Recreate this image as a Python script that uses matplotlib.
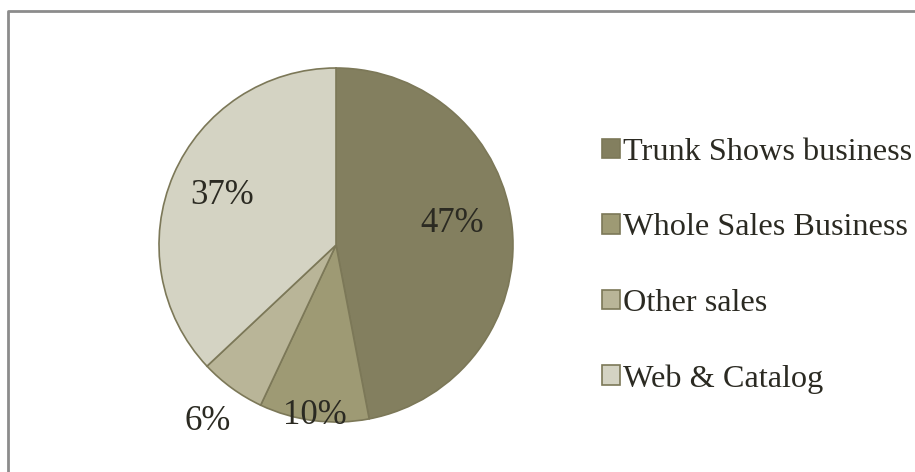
import numpy as np
import matplotlib
matplotlib.use('Agg')
import matplotlib.pyplot as plt
from matplotlib.lines import Line2D

categories = ['Trunk Shows business', 'Whole Sales Business', 'Other sales', 'Web & Catalog']
shares = [47, 10, 6, 37]
pct_labels = ['47%', '10%', '6%', '37%']
colors = ['#837f5f', '#9e9a74', '#b9b598', '#d4d3c3']
label_dist = [0.67, 0.97, 1.23, 0.70]
label_nudge = [5, 0, 0, 0]  # degrees, where the labels sit off the mid-angle
edge = '#7c7858'

plt.rcParams['font.family'] = ['Liberation Serif', 'DejaVu Serif']

W, H = 915, 472
fig = plt.figure(figsize=(W / 100, H / 100), dpi=100)

# chart frame (only left/top visible in crop)
fig.add_artist(Line2D([8 / W, 8 / W, 1], [0, 1 - 11 / H, 1 - 11 / H],
                      transform=fig.transFigure, color='#8c8c8c', lw=2))

# pie axes: center (336, 245), radius 177 px
r = 177
cx, cy = 336, 245
ax = fig.add_axes([(cx - r) / W, (H - cy - r) / H, 2 * r / W, 2 * r / H])
wedges, _ = ax.pie(shares, colors=colors, startangle=90, counterclock=False,
                   radius=1, wedgeprops=dict(edgecolor=edge, linewidth=1.2))
ax.set_xlim(-1, 1)
ax.set_ylim(-1, 1)
ax.set_aspect('equal')
ax.axis('off')

for w, lab, d, n in zip(wedges, pct_labels, label_dist, label_nudge):
    ang = np.deg2rad((w.theta1 + w.theta2) / 2 + n)
    ax.text(d * np.cos(ang), d * np.sin(ang), lab, ha='center', va='center',
            fontsize=25, color='#2b2a22', clip_on=False)

# legend
handles = [plt.Rectangle((0, 0), 1, 1, facecolor=c, edgecolor=edge, lw=1.2) for c in colors]
fig.legend(handles, categories, loc='upper left', bbox_to_anchor=(602 / W, 1 - 138 / H),
           frameon=False, fontsize=23.2, handlelength=0.56, handleheight=0.56,
           handletextpad=0.08, labelspacing=1.44, borderpad=0, borderaxespad=0,
           labelcolor='#2b2a22')

fig.savefig('out.png', dpi=100)
